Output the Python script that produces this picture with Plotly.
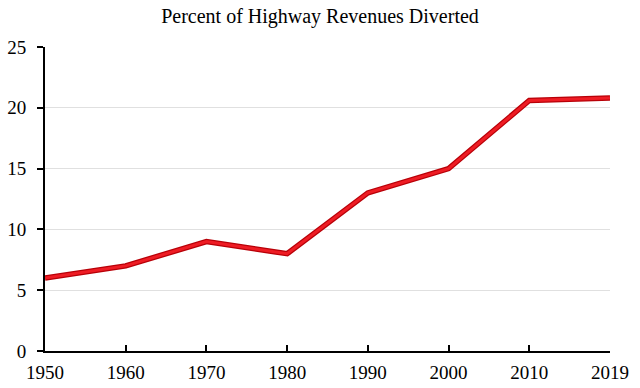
import plotly.graph_objects as go

years = ["1950", "1960", "1970", "1980", "1990", "2000", "2010", "2019"]
diverted = [6, 7, 9, 8, 13, 15, 20.6, 20.8]
y_ticks = [0, 5, 10, 15, 20, 25]

SERIF = "Liberation Serif"

fig = go.Figure()
fig.add_trace(go.Scatter(x=years, y=diverted, mode="lines",
                         line=dict(color="#b80008", width=5.5), hoverinfo="skip",
                         showlegend=False))
fig.add_trace(go.Scatter(x=years, y=diverted, mode="lines",
                         line=dict(color="#ee1c24", width=3), showlegend=False))

fig.update_layout(
    width=640, height=388,
    margin=dict(l=45, r=30, t=47, b=37, autoexpand=False),
    paper_bgcolor="white", plot_bgcolor="white",
    font=dict(family=SERIF, size=18, color="black"),
    title=dict(text="Percent of Highway Revenues Diverted", x=0.5, xanchor="center",
               y=0.96, yanchor="middle", font=dict(family=SERIF, size=20, color="black")),
)
fig.update_xaxes(type="category", range=[0, 7], showline=True, linecolor="black",
                 linewidth=2, ticks="inside", ticklen=6, tickcolor="black",
                 tickwidth=1.5, showgrid=False, zeroline=False, ticklabelstandoff=3,
                 tickfont=dict(family=SERIF, size=19, color="black"), automargin=False)
fig.update_yaxes(range=[0, 25], tickvals=y_ticks, showline=True, linecolor="black",
                 linewidth=2, ticks="outside", ticklen=6, tickcolor="black",
                 tickwidth=1.5, showgrid=True, gridcolor="#e0e0e0", gridwidth=1,
                 zeroline=False, ticklabelstandoff=7,
                 tickfont=dict(family=SERIF, size=19, color="black"),
                 automargin=False)

fig.write_html("out.html", config={"displayModeBar": False},
               post_script="document.body.style.margin='0';")
